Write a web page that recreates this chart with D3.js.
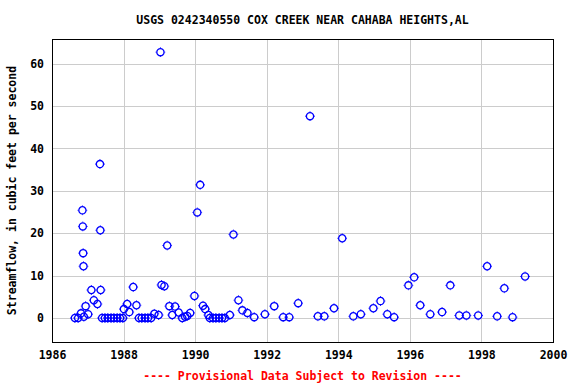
<!DOCTYPE html>
<html>
<head>
<meta charset="utf-8">
<script src="https://cdn.jsdelivr.net/npm/d3@7"></script>
<style>
  html, body { margin: 0; padding: 0; background: #fff; }
  text { font-family: "DejaVu Sans Mono", monospace; font-weight: bold; }
</style>
</head>
<body>
<div id="chart"></div>
<script>
// sample dates (decimal years) and streamflow (cfs)
const years = [
  1986.64, 1986.73, 1986.81, 1986.85, 1986.86, 1986.87, 1986.88, 1986.89, 1986.94,
  1987.01, 1987.10, 1987.17, 1987.27, 1987.34, 1987.35, 1987.36,
  1987.40, 1987.48, 1987.56, 1987.65, 1987.73, 1987.82, 1987.90, 1987.98,
  1988.01, 1988.10, 1988.16, 1988.27, 1988.36,
  1988.43, 1988.51, 1988.60, 1988.68, 1988.77, 1988.86, 1988.98,
  1989.03, 1989.06, 1989.14, 1989.22, 1989.28, 1989.36, 1989.44, 1989.54,
  1989.64, 1989.72, 1989.78, 1989.86, 1989.98,
  1990.06, 1990.14, 1990.22, 1990.28, 1990.37,
  1990.41, 1990.50, 1990.58, 1990.67, 1990.75, 1990.83, 1990.97,
  1991.07, 1991.21, 1991.32, 1991.46, 1991.65, 1991.95,
  1992.21, 1992.46, 1992.63, 1992.88,
  1993.21, 1993.43, 1993.61, 1993.88,
  1994.11, 1994.42, 1994.63, 1994.98,
  1995.18, 1995.37, 1995.56, 1995.96,
  1996.12, 1996.29, 1996.57, 1996.90,
  1997.13, 1997.38, 1997.58, 1997.91,
  1998.16, 1998.44, 1998.64, 1998.87, 1999.22
];
const flows = [
  0, 0, 1.1, 25.4, 21.6, 15.3, 12.2, 0.3, 2.8,
  0.9, 6.6, 4.2, 3.3, 36.3, 20.7, 6.6,
  0, 0, 0, 0, 0, 0, 0, 0,
  2.1, 3.3, 1.4, 7.3, 3.0,
  0, 0, 0, 0, 0, 1.0, 0.7,
  62.7, 7.8, 7.5, 17.1, 2.8, 0.7, 2.7, 1.3,
  0, 0.3, 0.5, 1.2, 5.2,
  24.9, 31.4, 2.9, 2.1, 0.7,
  0, 0, 0, 0, 0, 0, 0.7,
  19.7, 4.2, 1.8, 1.2, 0.2, 0.9,
  2.8, 0.2, 0.2, 3.5,
  47.6, 0.4, 0.4, 2.3,
  18.8, 0.4, 0.9, 2.3,
  4.0, 0.9, 0.2, 7.7,
  9.6, 3.0, 0.9, 1.4,
  7.7, 0.6, 0.6, 0.6,
  12.2, 0.4, 7.0, 0.2, 9.8
];
const xTicks = [1986, 1988, 1990, 1992, 1994, 1996, 1998, 2000];
const yTicks = [0, 10, 20, 30, 40, 50, 60];

const width = 576, height = 384;
const plotLeft = 52, plotRight = 553, plotTop = 39, plotBottom = 342;

const svg = d3.select('#chart').append('svg')
  .attr('width', width)
  .attr('height', height);

const x = d3.scaleLinear().domain([1986, 2000]).range([plotLeft, plotRight]);
const y = d3.scaleLinear().domain([-5.66, 65.8]).range([plotBottom, plotTop]);

// grid
svg.append('g').selectAll('line').data(xTicks.slice(1, -1)).enter()
  .append('line')
  .attr('x1', d => Math.round(x(d)) + 0.5).attr('x2', d => Math.round(x(d)) + 0.5)
  .attr('y1', plotTop).attr('y2', plotBottom)
  .attr('stroke', '#cccccc').attr('stroke-width', 1);
svg.append('g').selectAll('line').data(yTicks).enter()
  .append('line')
  .attr('x1', plotLeft).attr('x2', plotRight)
  .attr('y1', d => Math.round(y(d)) + 0.5).attr('y2', d => Math.round(y(d)) + 0.5)
  .attr('stroke', '#cccccc').attr('stroke-width', 1);

// frame
svg.append('rect')
  .attr('x', plotLeft + 0.5).attr('y', plotTop + 0.5)
  .attr('width', plotRight - plotLeft).attr('height', plotBottom - plotTop)
  .attr('fill', 'none').attr('stroke', '#000').attr('stroke-width', 1);

// axes labels
const xAxis = d3.axisBottom(x).tickValues(xTicks).tickFormat(d3.format('d')).tickSize(0).tickPadding(9);
svg.append('g').attr('transform', `translate(0,${plotBottom})`).call(xAxis)
  .call(g => g.select('.domain').remove())
  .selectAll('text').attr('font-size', 11.5).attr('fill', '#000')
  .style('font-family', '"DejaVu Sans Mono", monospace').style('font-weight', 'bold');

const yAxis = d3.axisLeft(y).tickValues(yTicks).tickSize(0).tickPadding(8);
svg.append('g').attr('transform', `translate(${plotLeft},0)`).call(yAxis)
  .call(g => g.select('.domain').remove())
  .selectAll('text').attr('font-size', 11.5).attr('fill', '#000')
  .style('font-family', '"DejaVu Sans Mono", monospace').style('font-weight', 'bold');

// points: open circle with small ticks
const pts = svg.append('g').selectAll('g').data(years.map((t, i) => [t, flows[i]])).enter()
  .append('g')
  .attr('transform', d => `translate(${x(d[0])},${y(d[1])})`);
pts.append('circle').attr('r', 3.6)
  .attr('fill', 'none').attr('stroke', '#0000ff').attr('stroke-width', 1.3);
pts.append('path')
  .attr('d', 'M0,-4.8V-4M0,4V4.8M-4.8,0H-4M4,0H4.8')
  .attr('stroke', '#0000ff').attr('stroke-width', 1);

// titles
svg.append('text')
  .attr('x', (plotLeft + plotRight) / 2).attr('y', 24)
  .attr('text-anchor', 'middle').attr('font-size', 11.5)
  .text('USGS 0242340550 COX CREEK NEAR CAHABA HEIGHTS,AL');

svg.append('text')
  .attr('transform', `translate(16,${(plotTop + plotBottom) / 2}) rotate(-90)`)
  .attr('text-anchor', 'middle').attr('font-size', 11.5)
  .text('Streamflow, in cubic feet per second');

svg.append('text')
  .attr('x', (plotLeft + plotRight) / 2).attr('y', 380)
  .attr('text-anchor', 'middle').attr('font-size', 11.5)
  .attr('fill', '#ff0000')
  .text('---- Provisional Data Subject to Revision ----');
</script>
</body>
</html>
